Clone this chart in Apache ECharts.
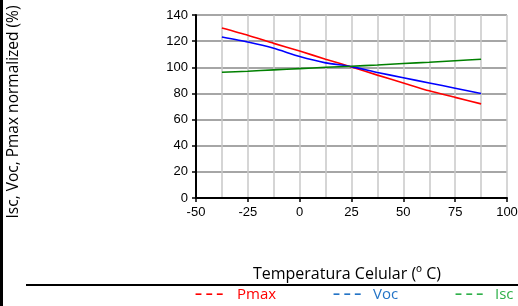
<!DOCTYPE html>
<html>
<head>
<meta charset="utf-8">
<script src="https://cdn.jsdelivr.net/npm/echarts@6/dist/echarts.min.js"></script>
<style>
  html, body { margin: 0; padding: 0; background: #fff; }
  #chart { width: 518px; height: 306px; }
</style>
</head>
<body>
<div id="chart"></div>
<script>
// cell temperature (ºC) and normalized values (%)
const temps = [-37.5, -25, -12.5, 0, 12.5, 25, 37.5, 50, 62.5, 75, 87.5];
const pmax = [130, 124.5, 118.3, 112.4, 106.2, 100.2, 94, 88, 82, 77, 72];
const voc = [123.2, 119.3, 114.5, 108.2, 103.4, 100.5, 96, 92, 88, 84, 80];
const isc = [96.2, 97, 98, 99, 100, 100.8, 101.8, 102.9, 103.9, 105, 106.1];

const seriesNames = ['Pmax', 'Voc', 'Isc'];
const lineColors = ['#ff0000', '#0000ff', '#008000'];
const legendColors = ['#ff0000', '#2474c6', '#2fb04a'];

const chart = echarts.init(document.getElementById('chart'), null, { renderer: 'canvas' });

function toPairs(values) {
  return temps.map((t, i) => [t, values[i]]);
}

function lineSeries(name, values, color) {
  return {
    name: name,
    type: 'line',
    data: toPairs(values),
    smooth: 0.2,
    showSymbol: false,
    lineStyle: { color: color, width: 1.6 },
    animation: false,
  };
}

const legendX = [[195, 237], [333, 373], [455, 495]];
const legendText = [];
seriesNames.forEach((name, i) => {
  legendText.push({
    type: 'text', left: legendX[i][0], top: 287,
    style: { text: '– – –', fill: legendColors[i], font: 'bold 14px "Open Sans"' },
  });
  legendText.push({
    type: 'text', left: legendX[i][1], top: 287,
    style: { text: name, fill: legendColors[i], font: '15px "Open Sans"' },
  });
});

chart.setOption({
  backgroundColor: '#fff',
  grid: { left: 196, right: 11, top: 15, bottom: 108, outerBoundsMode: 'none' },
  xAxis: {
    type: 'value',
    min: -50,
    max: 100,
    interval: 25,
    axisLine: { onZero: false, lineStyle: { color: '#000', width: 2 } },
    axisTick: { show: true, length: 4, lineStyle: { color: '#000', width: 1.5 } },
    axisLabel: { color: '#000', fontFamily: 'Liberation Sans', fontSize: 13, margin: 8 },
    splitLine: { show: true, lineStyle: { color: '#c8c8c8', width: 1.5 } },
    minorTick: { show: false, splitNumber: 2 },
    minorSplitLine: { show: true, lineStyle: { color: '#c8c8c8', width: 1.5 } },
  },
  yAxis: {
    type: 'value',
    min: 0,
    max: 140,
    interval: 20,
    name: 'Isc, Voc, Pmax normalized (%)',
    nameLocation: 'middle',
    nameGap: 174,
    nameTextStyle: {
      color: '#000', fontFamily: 'Open Sans', fontSize: 15.5, padding: [0, 11, 0, 0],
    },
    axisLine: { show: true, onZero: false, lineStyle: { color: '#000', width: 2 } },
    axisTick: { show: true, length: 4, lineStyle: { color: '#000', width: 1.5 } },
    axisLabel: { color: '#000', fontFamily: 'Liberation Sans', fontSize: 13, margin: 8 },
    splitLine: { show: true, lineStyle: { color: '#888', width: 1.5 } },
  },
  series: [
    lineSeries('Pmax', pmax, lineColors[0]),
    lineSeries('Voc', voc, lineColors[1]),
    lineSeries('Isc', isc, lineColors[2]),
  ],
  graphic: [
    { type: 'rect', left: 0, top: 0, shape: { width: 3, height: 306 }, style: { fill: '#000' } },
    {
      type: 'text', x: 347, y: 274,
      style: {
        text: 'Temperatura Celular (º C)', fill: '#000', font: '16px "Open Sans"',
        align: 'center', verticalAlign: 'middle',
      },
    },
    { type: 'rect', left: 26, top: 284, shape: { width: 492, height: 2 }, style: { fill: '#000' } },
    ...legendText,
  ],
});
</script>
</body>
</html>
